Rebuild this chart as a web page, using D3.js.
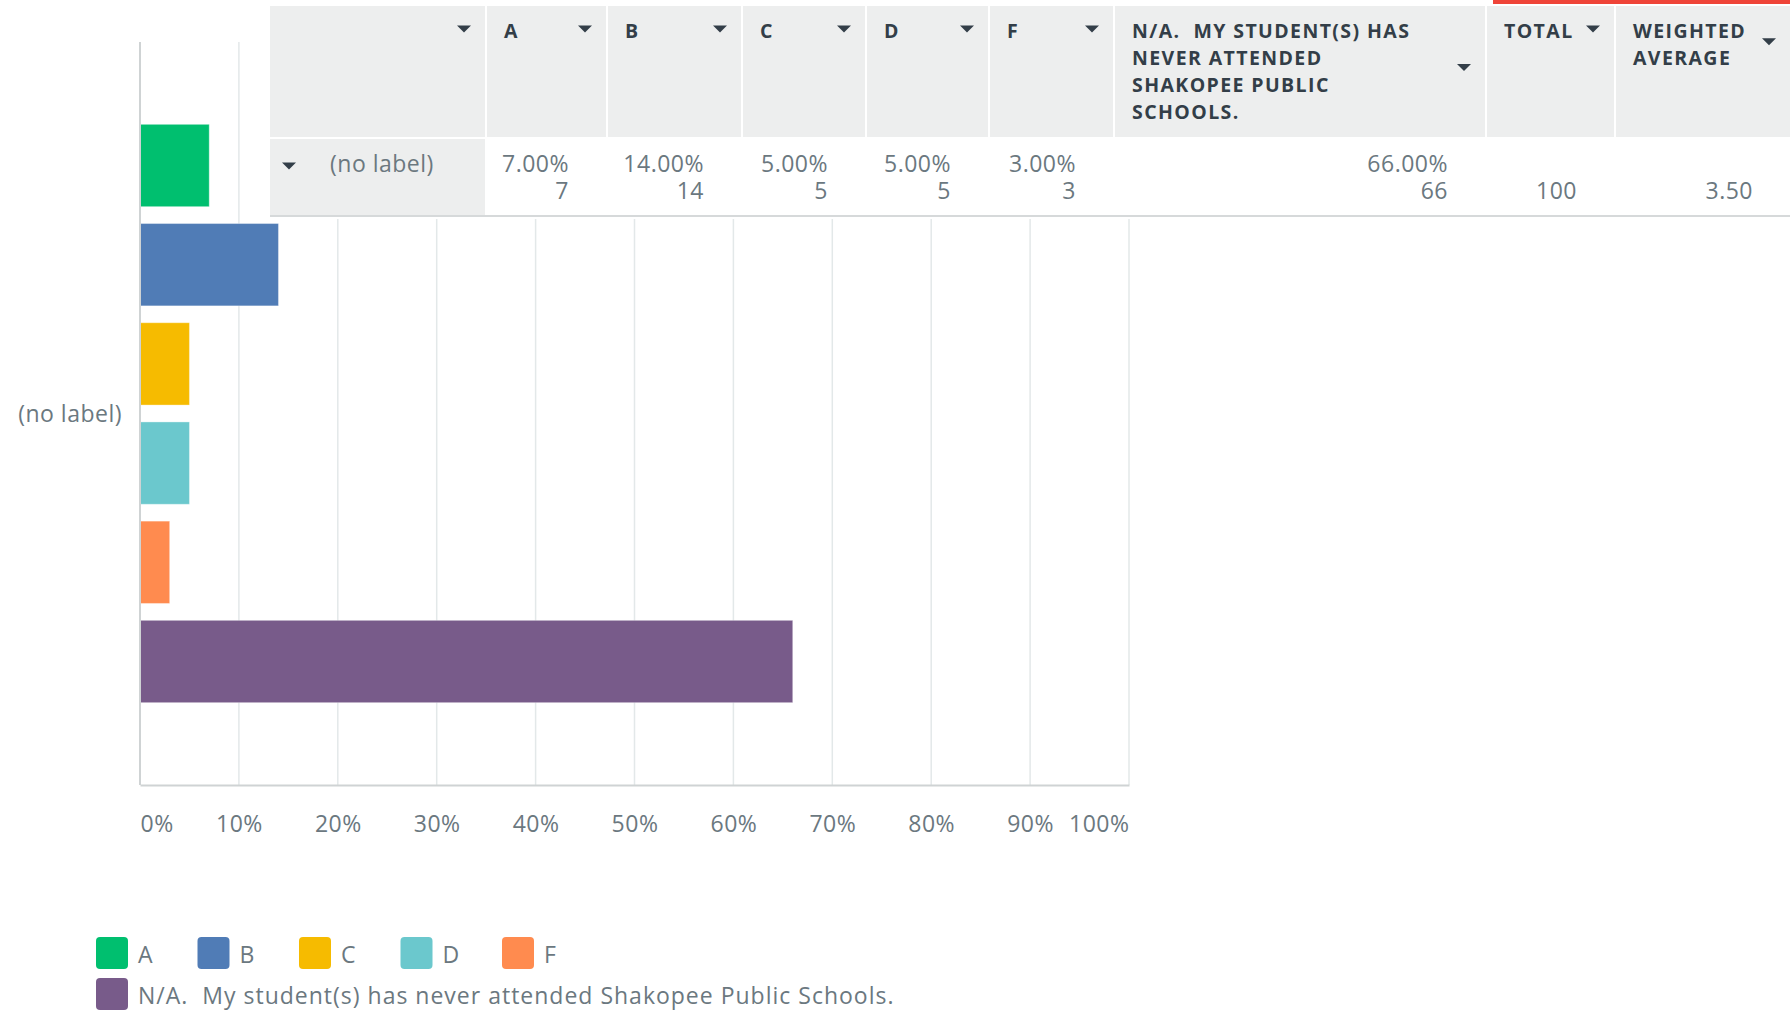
<!DOCTYPE html>
<html lang="en">
<head>
<meta charset="utf-8">
<title>Grade distribution</title>
<script src="https://d3js.org/d3.v7.min.js"></script>
<style>
    body { margin: 0; background: #fff; }
    svg text { font-family: "Open Sans", sans-serif; white-space: pre; }
    .hdr { font-family: "Open Sans", sans-serif; font-weight: 700; font-size: 19.5px; letter-spacing: 1.4px; fill: #333e48; }
    .val { font-size: 23px; fill: #6b787f; letter-spacing: 0.5px; }
    .leg { font-size: 23px; fill: #6b787f; letter-spacing: 1px; }
</style>
</head>
<body>
<svg id="chart" width="1790" height="1010"></svg>
<script>

// answer choices, same order as the bars
var categories = ["A", "B", "C", "D", "F", "N/A.  My student(s) has never attended Shakopee Public Schools."];
var percents = [7, 14, 5, 5, 3, 66];
var counts = [7, 14, 5, 5, 3, 66];
var colors = ["#00bf6f", "#507cb6", "#f6bb00", "#6bc8cd", "#ff8b4f", "#785b8a"];
var rowLabel = "(no label)";
var xTicks = [0, 10, 20, 30, 40, 50, 60, 70, 80, 90, 100];
var total = 100;
var weightedAvg = 3.50;
// table header, split in lines the way the survey page wraps them
var headerLines = [[], ["A"], ["B"], ["C"], ["D"], ["F"],
    ["N/A.  MY STUDENT(S) HAS", "NEVER ATTENDED", "SHAKOPEE PUBLIC", "SCHOOLS."],
    ["TOTAL"], ["WEIGHTED", "AVERAGE"]];

var svg = d3.select("#chart");

var x = d3.scaleLinear().domain([0, 100]).range([140, 1129]);
var y = d3.scaleBand().domain(categories).range([42, 785])
    .paddingInner(0.17).paddingOuter(0.83);

var top0 = y.range()[0], bottom0 = y.range()[1];

// vertical gridlines
svg.append("g")
    .selectAll("line")
    .data(xTicks.slice(1))
    .join("line")
    .attr("x1", d => x(d)).attr("x2", d => x(d))
    .attr("y1", top0).attr("y2", bottom0)
    .attr("stroke", "#e3e8e9")
    .attr("stroke-width", 1.5);

// bars
svg.append("g")
    .selectAll("rect")
    .data(categories)
    .join("rect")
    .attr("x", x(0))
    .attr("y", d => y(d))
    .attr("width", (d, i) => x(percents[i]) - x(0))
    .attr("height", y.bandwidth())
    .attr("fill", (d, i) => colors[i])
    .attr("stroke", "#fff")
    .attr("stroke-opacity", 0.35);

// left axis line + group label
svg.append("line")
    .attr("x1", x(0)).attr("x2", x(0))
    .attr("y1", top0).attr("y2", bottom0)
    .attr("stroke", "#cfd3d4").attr("stroke-width", 2);

svg.append("text")
    .attr("class", "val")
    .attr("x", x(0) - 18)
    .attr("y", (top0 + bottom0) / 2 + 8)
    .attr("text-anchor", "end")
    .text(rowLabel);

// bottom axis
var xAxis = svg.append("g")
    .attr("transform", "translate(0," + bottom0 + ")")
    .call(d3.axisBottom(x).tickValues(xTicks).tickFormat(d => d + "%").tickSize(0));

xAxis.select(".domain").attr("stroke", "#cfd3d4").attr("stroke-width", 2);
xAxis.selectAll("text")
    .attr("class", "val")
    .attr("y", 47).attr("dy", null)
    .attr("text-anchor", (d, i) => i == 0 ? "start" : (i == xTicks.length - 1 ? "end" : "middle"));
xAxis.attr("font-family", null).attr("font-size", null);

// ---- table on top ----
var colEdges = [270, 486, 607, 742, 866, 989, 1114, 1486, 1615, 1791];
var table = svg.append("g");

table.append("rect")
    .attr("x", colEdges[0]).attr("y", 0)
    .attr("width", 1790 - colEdges[0]).attr("height", 219)
    .attr("fill", "#fff");

table.append("rect")
    .attr("x", 1493).attr("y", 0)
    .attr("width", 297).attr("height", 4)
    .attr("fill", "#ef4438");

function tri(cx, cy) {
    return "M" + (cx - 7) + "," + (cy - 3.5) + "L" + (cx + 7) + "," + (cy - 3.5) + "L" + cx + "," + (cy + 3.5) + "Z";
}

var hdr = table.selectAll("g.hcell")
    .data(headerLines)
    .join("g")
    .attr("class", "hcell");

hdr.append("rect")
    .attr("x", (d, i) => colEdges[i] + (i ? 1 : 0))
    .attr("y", 6)
    .attr("width", (d, i) => colEdges[i + 1] - colEdges[i] - (i ? 2 : 1))
    .attr("height", 131)
    .attr("fill", "#edeeee");

hdr.append("text")
    .attr("class", "hdr")
    .selectAll("tspan")
    .data((d, i) => d.map(l => ({line: l, col: i})))
    .join("tspan")
    .attr("x", d => colEdges[d.col] + 18)
    .attr("y", (d, j) => 38 + j * 27)
    .text(d => d.line);

hdr.append("path")
    .attr("d", (d, i) => tri(colEdges[i + 1] - 22, 29 + (Math.max(d.length, 1) - 1) * 12.8))
    .attr("fill", "#333e48");

// row label cell
table.append("rect")
    .attr("x", colEdges[0]).attr("y", 139)
    .attr("width", colEdges[1] - colEdges[0] - 1).attr("height", 76)
    .attr("fill", "#edeeee");
table.append("path").attr("d", tri(289, 166)).attr("fill", "#333e48");
table.append("text")
    .attr("class", "val")
    .attr("x", 330).attr("y", 172)
    .text(rowLabel);

table.append("line")
    .attr("x1", colEdges[0]).attr("x2", 1790)
    .attr("y1", 216).attr("y2", 216)
    .attr("stroke", "#d6d9da").attr("stroke-width", 2);

// percentage over count, one text per cell
var fmt = d3.format(".2f");
var cells = table.selectAll("text.dcell")
    .data(categories)
    .join("text")
    .attr("class", "dcell val")
    .attr("text-anchor", "end");

cells.append("tspan")
    .attr("x", (d, i) => colEdges[i + 2] - 38)
    .attr("y", 172)
    .text((d, i) => fmt(percents[i]) + "%");

cells.append("tspan")
    .attr("x", (d, i) => colEdges[i + 2] - 38)
    .attr("y", 199)
    .text((d, i) => counts[i]);

table.append("text")
    .attr("class", "val")
    .attr("x", colEdges[8] - 38).attr("y", 199)
    .attr("text-anchor", "end")
    .text(total);

table.append("text")
    .attr("class", "val")
    .attr("x", colEdges[9] - 38).attr("y", 199)
    .attr("text-anchor", "end")
    .text(fmt(weightedAvg));

// ---- legend ----
var legend = svg.append("g");
var items = legend.selectAll("g")
    .data(categories)
    .join("g");

items.append("rect")
    .attr("width", 32).attr("height", 32).attr("rx", 4)
    .attr("fill", (d, i) => colors[i]);

items.append("text")
    .attr("class", "leg")
    .attr("x", 42).attr("y", 26)
    .text(d => d);

var lx = 96, ly = 937;
items.each(function () {
    var w = Math.max(101.5, 42 + d3.select(this).select("text").node().getComputedTextLength() + 38);
    if (lx + w > 1000 && lx > 96) {
        lx = 96;
        ly += 41;
    }
    d3.select(this).attr("transform", "translate(" + lx + "," + ly + ")");
    lx += w;
});

</script>
</body>
</html>
